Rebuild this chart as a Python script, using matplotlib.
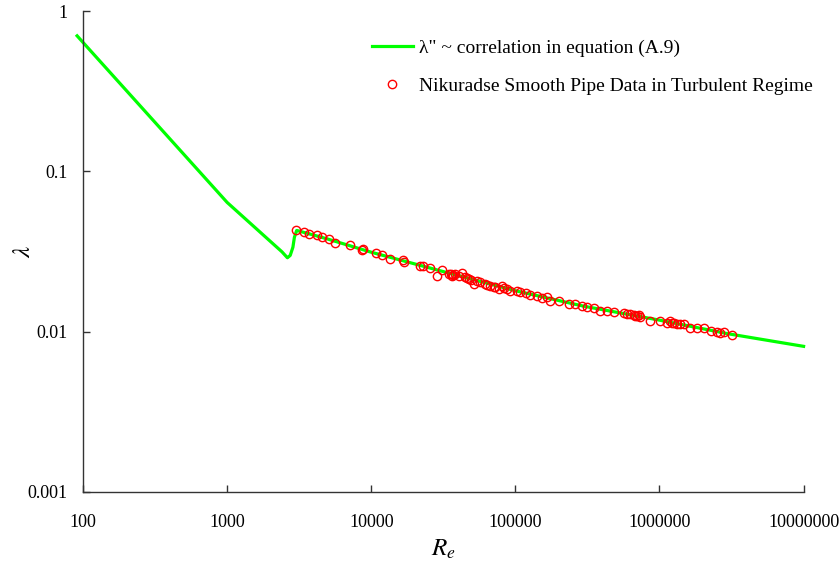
import numpy as np
import matplotlib
matplotlib.use('Agg')
import matplotlib.pyplot as plt

plt.rcParams['font.family'] = ['Liberation Serif', 'DejaVu Serif']
plt.rcParams['mathtext.fontset'] = 'stix'

# correlation curve
re_line = [91, 1000, 2000, 2400, 2620, 2740, 2860, 2930, 3040, 4000, 5000,
           10000, 30000, 100000, 300000, 1000000, 3000000, 6200000, 10000000]
lam_line = [0.70, 0.064, 0.0365, 0.0315, 0.0289, 0.0299, 0.0336, 0.0388, 0.0428, 0.0400, 0.0378,
            0.0313, 0.0240, 0.0180, 0.0144, 0.0118, 0.0097, 0.0087, 0.0081]

# Nikuradse smooth pipe data
re_data = [3000, 3430, 3690, 4200, 4550, 5110, 5560, 7150, 8710, 8610,
           10790, 11860, 13550, 16490, 16760, 21640, 22860, 25700, 28580, 30970,
           34430, 36310, 38290, 42660, 44980, 47420, 51290, 54200, 57150, 61930,
           67000, 70650, 76560, 80860, 87540, 92260, 102800, 108300, 127100, 141500,
           166000, 175000, 200000, 234500, 261000, 290500, 314800, 349900, 389200, 433400,
           481600, 565000, 597000, 663000, 700000, 738000, 866000, 1016000, 1130000, 1257000,
           1327000, 1475000, 1641000, 1827000, 2031000, 2260000, 2516000, 2797000, 3198000,
           35500, 37000, 40500, 46000, 49500, 63500, 72500, 83000, 118000, 152000,
           620000, 680000, 720000, 1180000, 1220000, 1380000, 2650000]
lam_data = [0.0428, 0.0418, 0.0408, 0.0398, 0.0392, 0.0380, 0.0358, 0.0345, 0.0329, 0.0321,
            0.0309, 0.0299, 0.0285, 0.0281, 0.0271, 0.0255, 0.0256, 0.0249, 0.0224, 0.0241,
            0.0230, 0.0224, 0.0230, 0.0231, 0.0218, 0.0213, 0.0197, 0.0208, 0.0203, 0.0199,
            0.0194, 0.0189, 0.0185, 0.0194, 0.0185, 0.0180, 0.0180, 0.0176, 0.0170, 0.0166,
            0.0164, 0.0156, 0.0156, 0.0149, 0.0148, 0.0145, 0.0143, 0.0140, 0.0135, 0.0134,
            0.0132, 0.0130, 0.0128, 0.0127, 0.0126, 0.0123, 0.0117, 0.0117, 0.0114, 0.0114,
            0.0112, 0.0112, 0.0106, 0.0106, 0.0105, 0.0101, 0.0100, 0.0099, 0.0096,
            0.0228, 0.0226, 0.0222, 0.0216, 0.0210, 0.0196, 0.0191, 0.0186, 0.0173, 0.0162,
            0.0129, 0.0125, 0.0127, 0.0116, 0.0113, 0.0111, 0.0098]

xticks = [100, 1000, 10000, 100000, 1000000, 10000000]
xticklabels = ['100', '1000', '10000', '100000', '1000000', '10000000']
yticks = [0.001, 0.01, 0.1, 1]
yticklabels = ['0.001', '0.01', '0.1', '1']

fig = plt.figure(figsize=(8.4, 5.68), dpi=100)
ax = fig.add_axes([83/840, 1-492/568, (803.6-83)/840, (492-11)/568])

ax.plot(re_line, lam_line, color='#00ff00', lw=2.3, clip_on=False, zorder=2,
        label='\u03bb" ~ correlation in equation (A.9)')
ax.plot(re_data, lam_data, ls='none', marker='o', ms=6, mfc='none', mec='red', mew=1.0,
        zorder=3, label='Nikuradse Smooth Pipe Data in Turbulent Regime')

ax.set_xscale('log')
ax.set_yscale('log')
ax.set_xlim(100, 10000000)
ax.set_ylim(0.001, 1)
ax.set_xticks(xticks)
ax.set_xticklabels(xticklabels)
ax.set_yticks(yticks)
ax.set_yticklabels(yticklabels)
ax.minorticks_off()

for s in ['top', 'right']:
    ax.spines[s].set_visible(False)
for s in ['left', 'bottom']:
    ax.spines[s].set_color('#333333')
    ax.spines[s].set_linewidth(1.0)
ax.tick_params(axis='both', direction='in', length=5, width=1, color='#333333', labelsize=13)
ax.tick_params(axis='x', pad=16)
ax.tick_params(axis='y', pad=11)

ax.set_xlabel('$R_e$', fontsize=18)
ax.set_ylabel('$\\lambda$', fontsize=18, rotation=90)
ax.xaxis.set_label_coords(0.5, -0.095)
ax.yaxis.set_label_coords(-0.067, 0.5)

ax.legend(loc='upper left', bbox_to_anchor=(372/840, 1-39/568), bbox_transform=fig.transFigure,
          frameon=False, fontsize=14, handlelength=2.1, handletextpad=0.3, labelspacing=1.05,
          borderpad=0, borderaxespad=0, numpoints=1)

fig.savefig('out.png', dpi=100)
